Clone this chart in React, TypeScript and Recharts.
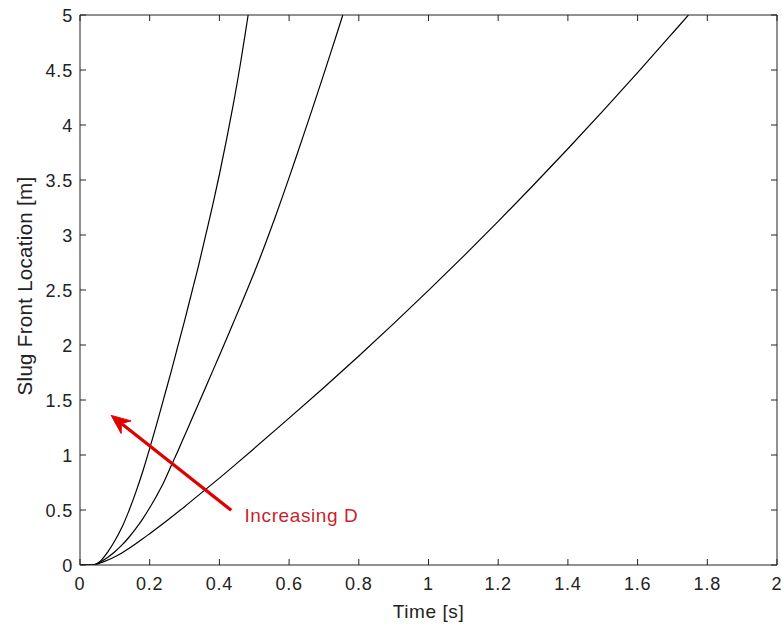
import React from 'react';
import {
    LineChart,
    Line,
    XAxis,
    YAxis,
    ReferenceLine,
    ReferenceDot
} from 'recharts';

// values (time in s, front location in m)
const curve1T = [0, 0.035, 0.06, 0.08, 0.1, 0.12, 0.14, 0.16, 0.18, 0.2, 0.22, 0.24, 0.26, 0.28, 0.3, 0.32, 0.34, 0.36, 0.38, 0.4, 0.42, 0.44, 0.46, 0.48, 0.4825];
const curve1V = [0, 0, 0.04, 0.12, 0.22, 0.34, 0.49, 0.66, 0.85, 1.06, 1.28, 1.51, 1.74, 1.98, 2.22, 2.47, 2.72, 2.99, 3.26, 3.55, 3.86, 4.19, 4.55, 4.95, 5.0];

const curve2T = [0, 0.035, 0.06, 0.08, 0.1, 0.12, 0.14, 0.16, 0.18, 0.2, 0.22, 0.24, 0.26, 0.28, 0.3, 0.32, 0.34, 0.36, 0.38, 0.4, 0.42, 0.44, 0.46, 0.48, 0.5, 0.52, 0.54, 0.56, 0.58, 0.6, 0.62, 0.64, 0.66, 0.68, 0.7, 0.72, 0.74, 0.7541];
const curve2V = [0, 0, 0.03, 0.07, 0.12, 0.18, 0.25, 0.33, 0.42, 0.52, 0.63, 0.75, 0.89, 1.03, 1.175, 1.32, 1.466, 1.612, 1.758, 1.905, 2.053, 2.202, 2.352, 2.504, 2.66, 2.82, 2.988, 3.162, 3.34, 3.522, 3.707, 3.894, 4.083, 4.274, 4.467, 4.662, 4.859, 5.0];

const curve3T = [0, 0.035, 0.06, 0.08, 0.1, 0.12, 0.14, 0.16, 0.18, 0.2, 0.25, 0.3, 0.35, 0.4, 0.45, 0.5, 0.6, 0.7, 0.8, 0.9, 1.0, 1.1, 1.2, 1.3, 1.4, 1.5, 1.6, 1.7, 1.746];
const curve3V = [0, 0, 0.02, 0.045, 0.075, 0.11, 0.15, 0.193, 0.238, 0.285, 0.405, 0.53, 0.66, 0.79, 0.924, 1.06, 1.335, 1.614, 1.9, 2.194, 2.496, 2.806, 3.124, 3.45, 3.784, 4.126, 4.476, 4.834, 5.0];

const xTicks = [0, 0.2, 0.4, 0.6, 0.8, 1, 1.2, 1.4, 1.6, 1.8, 2];
const yTicks = [0, 0.5, 1, 1.5, 2, 2.5, 3, 3.5, 4, 4.5, 5];

// annotation arrow: tail -> head, and the label anchor
const arrowTail = { x: 0.434, y: 0.497 };
const arrowHead = { x: 0.0895, y: 1.36 };
const noteAt = { x: 0.472, y: 0.387 };

const zip = (ts: number[], vs: number[]) => ts.map((t, i) => ({ t, v: vs[i] }));

const FONT = '"Liberation Sans", Arial, Helvetica, sans-serif';
const INK = '#222';
const RED = '#e00000';

const BottomTick = ({ x, y, payload }: any) => (
    <g>
        <line x1={x} y1={y} x2={x} y2={y - 6} stroke={INK} />
        <text x={x} y={y + 25} textAnchor="middle" fontSize={18} fontFamily={FONT} letterSpacing={0.8} fill={INK}>
            {String(payload.value)}
        </text>
    </g>
);

const LeftTick = ({ x, y, payload }: any) => (
    <g>
        <line x1={x} y1={y} x2={x + 6} y2={y} stroke={INK} />
        <text x={x - 7} y={y + 6.5} textAnchor="end" fontSize={18} fontFamily={FONT} letterSpacing={0.8} fill={INK}>
            {String(payload.value)}
        </text>
    </g>
);

const TopTick = ({ x, y }: any) => <line x1={x} y1={y} x2={x} y2={y + 6} stroke={INK} />;
const RightTick = ({ x, y }: any) => <line x1={x} y1={y} x2={x - 6} y2={y} stroke={INK} />;

const XTitle = ({ viewBox }: any) => (
    <text x={viewBox.x + viewBox.width / 2} y={viewBox.y + 53} textAnchor="middle" fontSize={19} fontFamily={FONT} letterSpacing={0.6} fill={INK}>
        Time [s]
    </text>
);

const YTitle = ({ viewBox }: any) => {
    const cx = viewBox.x + 32;
    const cy = viewBox.y + viewBox.height / 2 - 4;
    return (
        <text x={cx} y={cy} transform={`rotate(-90 ${cx} ${cy})`} textAnchor="middle" fontSize={20.5} fontFamily={FONT} letterSpacing={0.3} fill={INK}>
            Slug Front Location [m]
        </text>
    );
};

const Arrow = ({ x1, y1, x2, y2 }: any) => {
    const dx = x2 - x1;
    const dy = y2 - y1;
    const len = Math.sqrt(dx * dx + dy * dy);
    const ux = dx / len;
    const uy = dy / len;
    const px = -uy;
    const py = ux;
    const headLen = 19;
    const halfW = 8;
    const notch = 13;
    const bx = x2 - ux * headLen;
    const by = y2 - uy * headLen;
    const pts = [
        [x2, y2],
        [bx + px * halfW, by + py * halfW],
        [x2 - ux * notch, y2 - uy * notch],
        [bx - px * halfW, by - py * halfW]
    ].map((p) => p.join(',')).join(' ');
    return (
        <g>
            <line x1={x1} y1={y1} x2={x2 - ux * notch} y2={y2 - uy * notch} stroke={RED} strokeWidth={3.2} />
            <polygon points={pts} fill={RED} stroke={RED} strokeWidth={1} />
        </g>
    );
};

const Note = ({ cx, cy }: any) => (
    <text x={cx} y={cy} fontSize={19} fontFamily={FONT} letterSpacing={0.6} fill="#cc1f2d">
        Increasing D
    </text>
);

export default function App() {
    const series = [zip(curve1T, curve1V), zip(curve2T, curve2V), zip(curve3T, curve3V)];
    return (
        <div style={{ position: 'absolute', left: 0, top: 0, width: 782, height: 626, background: '#fff' }}>
            <LineChart width={782} height={626} margin={{ top: 0, right: 0, bottom: 0, left: 0 }}>
                <XAxis
                    xAxisId="b"
                    type="number"
                    dataKey="t"
                    domain={[0, 2]}
                    ticks={xTicks}
                    interval={0}
                    allowDataOverflow
                    height={61}
                    axisLine={{ stroke: INK }}
                    tickLine={false}
                    tickSize={0}
                    tickMargin={0}
                    tick={(p: any) => <BottomTick {...p} />}
                    label={<XTitle />}
                />
                <XAxis
                    xAxisId="t"
                    orientation="top"
                    type="number"
                    dataKey="t"
                    domain={[0, 2]}
                    ticks={xTicks}
                    interval={0}
                    allowDataOverflow
                    height={15}
                    axisLine={{ stroke: INK }}
                    tickLine={false}
                    tickSize={0}
                    tickMargin={0}
                    tick={(p: any) => <TopTick {...p} />}
                />
                <YAxis
                    yAxisId="l"
                    type="number"
                    domain={[0, 5]}
                    ticks={yTicks}
                    interval={0}
                    allowDataOverflow
                    width={80}
                    axisLine={{ stroke: INK }}
                    tickLine={false}
                    tickSize={0}
                    tickMargin={0}
                    tick={(p: any) => <LeftTick {...p} />}
                    label={<YTitle />}
                />
                <YAxis
                    yAxisId="r"
                    orientation="right"
                    type="number"
                    domain={[0, 5]}
                    ticks={yTicks}
                    interval={0}
                    allowDataOverflow
                    width={5}
                    axisLine={{ stroke: INK }}
                    tickLine={false}
                    tickSize={0}
                    tickMargin={0}
                    tick={(p: any) => <RightTick {...p} />}
                />
                {series.map((d, i) => (
                    <Line
                        key={i}
                        xAxisId="b"
                        yAxisId="l"
                        data={d}
                        dataKey="v"
                        type="monotone"
                        stroke="#000"
                        strokeWidth={1.2}
                        dot={false}
                        isAnimationActive={false}
                    />
                ))}
                <ReferenceLine
                    xAxisId="b"
                    yAxisId="l"
                    segment={[arrowTail, arrowHead]}
                    shape={(p: any) => <Arrow {...p} />}
                />
                <ReferenceDot
                    xAxisId="b"
                    yAxisId="l"
                    x={noteAt.x}
                    y={noteAt.y}
                    r={0}
                    ifOverflow="visible"
                    shape={(p: any) => <Note {...p} />}
                />
            </LineChart>
        </div>
    );
}
